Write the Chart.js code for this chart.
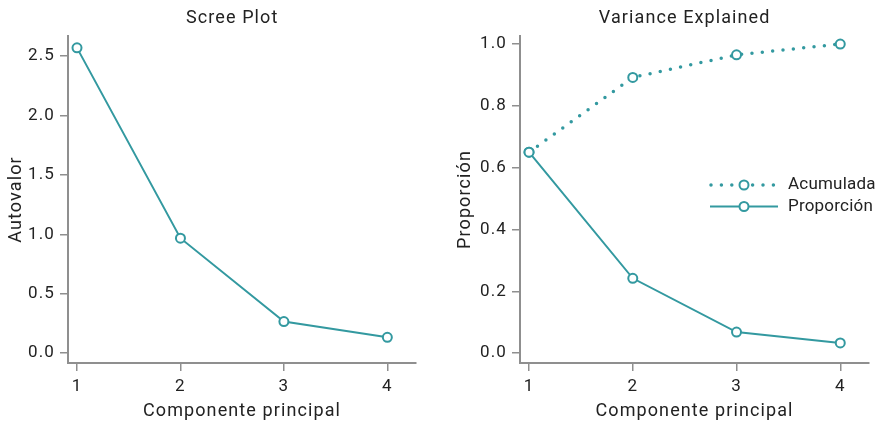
<!DOCTYPE html>
<html>
<head>
<meta charset="utf-8">
<script src="https://cdn.jsdelivr.net/npm/chart.js@4/dist/chart.umd.min.js"></script>
<style>
html,body{margin:0;padding:0;background:#fff;}
#wrap{position:relative;width:883px;height:422px;overflow:hidden;}
canvas{position:absolute;top:0;}
#c1{left:0;}
#c2{left:441px;}
</style>
</head>
<body>
<div id="wrap">
<canvas id="c1" width="441" height="422"></canvas>
<canvas id="c2" width="442" height="422"></canvas>
</div>
<script>
// ---- data ----
const components = [1, 2, 3, 4];
const eigenvalues = [2.57, 0.967, 0.265, 0.132];
const proportion = [0.65, 0.242, 0.068, 0.033];
const cumulative = [0.65, 0.892, 0.965, 1.0];
const xTicks = [1, 2, 3, 4];
const screeYTicks = [0, 0.5, 1.0, 1.5, 2.0, 2.5];
const varYTicks = [0, 0.2, 0.4, 0.6, 0.8, 1.0];
const seriesLabels = ['Acumulada', 'Proporción'];
const titles = ['Scree Plot', 'Variance Explained'];
const xTitle = 'Componente principal';
const yTitles = ['Autovalor', 'Proporción'];

// ---- style ----
const TEAL = '#3399a0';
const AXIS = '#8f8f8f';
const TEXT = '#222222';
const FONT = 'Roboto';
const SPACING = '1.1px';
Chart.defaults.font.family = FONT;
Chart.defaults.color = TEXT;

Chart.register({
  id: 'spacing',
  beforeUpdate(chart) { chart.ctx.letterSpacing = SPACING; },
  beforeDraw(chart) { chart.ctx.letterSpacing = SPACING; }
});

const pts = (ys) => components.map((c, i) => ({x: c, y: ys[i]}));

function xScale() {
  return {
    type: 'linear', min: 0.913, max: 4.277,
    afterBuildTicks: s => { s.ticks = xTicks.map(v => ({value: v})); },
    afterFit: s => { s.height = 59; },
    ticks: {font: {size: 17}, color: TEXT, padding: 6, callback: v => String(v)},
    grid: {drawOnChartArea: false, drawTicks: true, tickLength: 8, color: AXIS, lineWidth: 1.5},
    border: {display: true, color: AXIS, width: 2},
    title: {display: true, text: xTitle, font: {size: 18}, color: TEXT, padding: {top: 0, bottom: 0}}
  };
}
function yScale(min, max, ticks, width, title, tpad) {
  return {
    type: 'linear', min: min, max: max,
    afterBuildTicks: s => { s.ticks = ticks.map(v => ({value: v})); },
    afterFit: s => { s.width = width; },
    ticks: {font: {size: 17}, color: TEXT, padding: 5, callback: v => Number(v).toFixed(1)},
    grid: {drawOnChartArea: false, drawTicks: true, tickLength: 8, color: AXIS, lineWidth: 1.5},
    border: {display: true, color: AXIS, width: 2},
    title: {display: true, text: title, font: {size: 18}, color: TEXT, padding: {top: tpad, bottom: 0}}
  };
}

const panelTitle = {
  id: 'panelTitle',
  afterDraw(chart, args, opts) {
    const ctx = chart.ctx;
    const x = chart.scales.x.getPixelForValue(2.5);
    ctx.save();
    ctx.letterSpacing = SPACING;
    ctx.font = '18px ' + FONT;
    ctx.fillStyle = TEXT;
    ctx.textAlign = 'center';
    ctx.textBaseline = 'middle';
    ctx.fillText(opts.text, x, 18.5);
    ctx.restore();
  }
};

const lineLegend = {
  id: 'lineLegend',
  afterDraw(chart) {
    const ctx = chart.ctx;
    const x0 = 269, x1 = 337, xm = 303, tx = 347;
    const rows = [{y: 185, dash: [0, 10.4], w: 3.5, label: seriesLabels[0]},
                  {y: 206.5, dash: [], w: 2, label: seriesLabels[1]}];
    ctx.save();
    ctx.letterSpacing = '0.2px';
    rows.forEach(r => {
      ctx.strokeStyle = TEAL;
      ctx.lineWidth = r.w;
      ctx.lineCap = r.dash.length ? 'round' : 'butt';
      ctx.setLineDash(r.dash);
      ctx.beginPath(); ctx.moveTo(x0 + (r.dash.length ? 1 : 0), r.y); ctx.lineTo(x1, r.y); ctx.stroke();
      ctx.setLineDash([]);
      ctx.lineWidth = 2;
      ctx.fillStyle = '#fff';
      ctx.beginPath(); ctx.arc(xm, r.y, 4.5, 0, Math.PI * 2); ctx.fill(); ctx.stroke();
      ctx.fillStyle = TEXT;
      ctx.font = '17px ' + FONT;
      ctx.textAlign = 'left';
      ctx.textBaseline = 'middle';
      ctx.fillText(r.label, tx, r.y);
    });
    ctx.restore();
  }
};

const pointStyle = {
  pointRadius: 4.5, pointHoverRadius: 4.5, pointBorderWidth: 2,
  pointBackgroundColor: '#fff', pointBorderColor: TEAL
};

new Chart(document.getElementById('c1'), {
  type: 'line',
  data: {datasets: [Object.assign({
    data: pts(eigenvalues), borderColor: TEAL, borderWidth: 2, tension: 0, clip: false
  }, pointStyle)]},
  options: {
    responsive: false, animation: false, devicePixelRatio: 1,
    layout: {padding: {top: 36, right: 25, bottom: 0, left: 0}},
    plugins: {legend: {display: false}, tooltip: {enabled: false}, panelTitle: {text: titles[0]}},
    scales: {
      x: xScale(),
      y: yScale(-0.084, 2.67, screeYTicks, 68, yTitles[0], 6)
    }
  },
  plugins: [panelTitle]
});

new Chart(document.getElementById('c2'), {
  type: 'line',
  data: {datasets: [
    Object.assign({label: seriesLabels[0], data: pts(cumulative), borderColor: TEAL, borderWidth: 3.5,
      borderDash: [0, 10.4], borderCapStyle: 'round', tension: 0, clip: false}, pointStyle),
    Object.assign({label: seriesLabels[1], data: pts(proportion), borderColor: TEAL, borderWidth: 2,
      tension: 0, clip: false}, pointStyle)
  ]},
  options: {
    responsive: false, animation: false, devicePixelRatio: 1,
    layout: {padding: {top: 36, right: 14, bottom: 0, left: 0}},
    plugins: {legend: {display: false}, tooltip: {enabled: false}, panelTitle: {text: titles[1]}},
    scales: {
      x: xScale(),
      y: yScale(-0.032, 1.026, varYTicks, 79, yTitles[1], 14)
    }
  },
  plugins: [panelTitle, lineLegend]
});
</script>
</body>
</html>
